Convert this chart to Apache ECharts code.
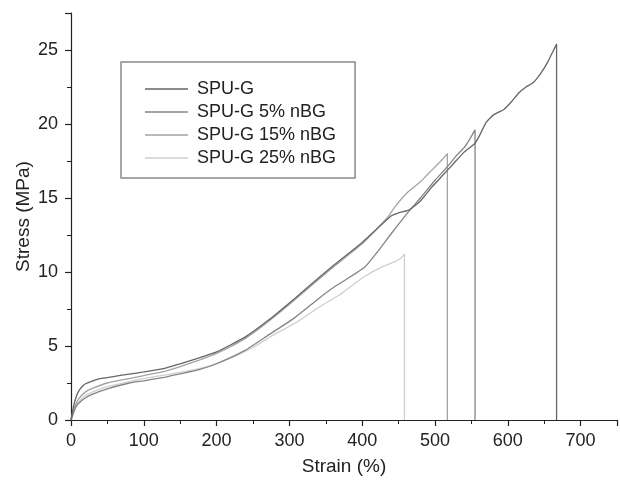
<!DOCTYPE html>
<html>
<head>
<meta charset="utf-8">
<script src="https://cdn.jsdelivr.net/npm/echarts@6/dist/echarts.min.js"></script>
<style>html,body{margin:0;padding:0;background:#fff}#c{width:620px;height:481px}</style>
</head>
<body>
<div id="c"></div>
<script>
var seriesNames = ["SPU-G", "SPU-G 5% nBG", "SPU-G 15% nBG", "SPU-G 25% nBG"];

var strainSPUG = [0,3,6,10,15,20,30,40,60,80,100,130,150,176,200,239,270,307,340,362,400,420,440,450,465,480,495,510,525,540,555,562,570,580,595,605,615,625,635,645,655,662,667,667];
var stressSPUG = [0,0.8,1.4,1.9,2.25,2.45,2.65,2.8,2.95,3.1,3.25,3.5,3.8,4.2,4.6,5.6,6.7,8.2,9.6,10.5,12.0,12.9,13.8,14.0,14.2,14.8,15.7,16.5,17.3,18.1,18.7,19.3,20.1,20.6,21.0,21.5,22.1,22.5,22.8,23.4,24.2,24.9,25.4,0];

var strain5 = [0,3,6,10,20,30,50,80,100,130,148,176,200,239,270,307,340,362,403,420,440,464,480,500,515,530,540,548,555,555];
var stress5 = [0,0.4,0.8,1.1,1.5,1.75,2.1,2.5,2.65,2.9,3.1,3.4,3.8,4.7,5.7,6.9,8.2,9.0,10.3,11.3,12.6,14.1,15.0,16.2,17.0,17.9,18.4,19.0,19.6,0];

var strain15 = [0,3,6,10,20,30,50,80,100,130,150,176,200,239,270,307,340,362,400,420,435,445,455,465,480,490,500,510,517,517];
var stress15 = [0,0.6,1.0,1.4,1.9,2.15,2.5,2.8,3.0,3.3,3.6,4.05,4.5,5.5,6.6,8.1,9.5,10.4,11.9,12.9,13.7,14.4,15.0,15.5,16.1,16.6,17.1,17.6,18.0,0];

var strain25 = [0,3,6,10,20,30,50,80,100,130,160,190,220,250,280,310,340,370,400,425,445,452,458,458];
var stress25 = [0,0.5,0.9,1.2,1.65,1.9,2.25,2.6,2.8,3.05,3.3,3.65,4.2,4.9,5.8,6.6,7.6,8.5,9.6,10.3,10.7,10.9,11.2,0];

var xTicks = [0,100,200,300,400,500,600,700];
var yTicks = [0,5,10,15,20,25];

function pairs(xs, ys){ return xs.map(function(x,i){ return [x, ys[i]]; }); }

var colors = ["#666666", "#858585", "#a3a3a3", "#cfcfcf"];
var allData = [pairs(strainSPUG, stressSPUG), pairs(strain5, stress5), pairs(strain15, stress15), pairs(strain25, stress25)];

var chart = echarts.init(document.getElementById('c'), null, {renderer: 'canvas'});
var font = "'Liberation Sans', Arial, sans-serif";
chart.setOption({
  animation: false,
  backgroundColor: '#fff',
  textStyle: {fontFamily: font},
  grid: {left: 71, right: 0, top: 13, bottom: 60, containLabel: false},
  legend: {
    orient: 'vertical', left: 121, top: 62,
    data: seriesNames,
    icon: 'path://M0,0 L40,0 L40,1.2 L0,1.2 Z',
    borderColor: '#8a8a8a', borderWidth: 1.5, borderRadius: 0,
    padding: [18, 19, 11, 24],
    itemWidth: 43, itemHeight: 14, itemGap: 5,
    textStyle: {fontSize: 18, color: '#222', fontFamily: font, padding: [0,0,0,4]}
  },
  xAxis: {
    type: 'value', min: 0, max: 750, interval: 100,
    name: 'Strain (%)', nameLocation: 'middle', nameGap: 37,
    nameTextStyle: {fontSize: 19, color: '#222', fontFamily: font},
    axisLine: {show: true, onZero: false, lineStyle: {color: '#222', width: 1.2}},
    axisTick: {show: true, inside: false, length: 6, lineStyle: {color: '#222', width: 1.2}},
    minorTick: {show: true, splitNumber: 2, length: 4, lineStyle: {color: '#222', width: 1}},
    axisLabel: {fontSize: 18, color: '#222', margin: 12, fontFamily: font,
      formatter: function(v){ return xTicks.indexOf(v) >= 0 ? String(v) : ''; }},
    splitLine: {show: false}
  },
  yAxis: {
    type: 'value', min: 0, max: 27.5, interval: 5,
    name: 'Stress (MPa)', nameLocation: 'middle', nameGap: 38, nameMoveOverlap: false,
    nameTextStyle: {fontSize: 19, color: '#222', fontFamily: font},
    axisLine: {show: true, onZero: false, lineStyle: {color: '#222', width: 1.2}},
    axisTick: {show: true, inside: false, length: 6, lineStyle: {color: '#222', width: 1.2}},
    minorTick: {show: true, splitNumber: 2, length: 4, lineStyle: {color: '#222', width: 1}},
    axisLabel: {fontSize: 18, color: '#222', margin: 13, fontFamily: font,
      formatter: function(v){ return yTicks.indexOf(v) >= 0 ? String(v) : ''; }},
    splitLine: {show: false}
  },
  series: seriesNames.map(function(n, i){
    return {
      name: n, type: 'line', data: allData[i],
      symbol: 'none', showSymbol: false, smooth: 0.15,
      color: colors[i],
      lineStyle: {color: colors[i], width: 1.3},
      z: 10 - i
    };
  })
});
</script>
</body>
</html>
